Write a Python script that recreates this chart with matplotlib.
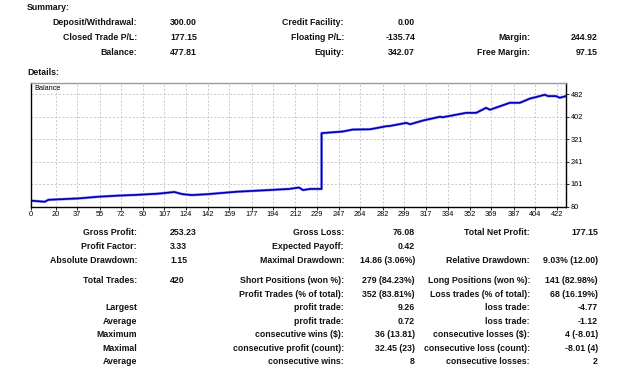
import matplotlib.pyplot as plt

plt.rcParams['font.family'] = ['Liberation Sans', 'DejaVu Sans']

# balance curve (trade number, balance)
trade_no = [0, 11, 14, 38, 54, 70, 86, 102, 115, 119, 122, 129, 141, 165, 191,
            207, 215, 218, 224, 233, 233, 250, 258, 272, 285, 288, 301, 304,
            314, 328, 330, 349, 357, 365, 368, 384, 392, 400, 408, 412, 414.5,
            421, 424, 429]
balance = [101, 97, 104, 109, 115, 119, 122, 126, 132, 127, 124, 121, 124, 133,
           139, 143, 148, 139, 143, 143, 343, 349, 356, 357, 368, 369, 380, 375,
           388, 402, 400, 416, 416, 434, 427, 452, 452, 467, 476, 481, 476, 476,
           470, 476]

x_ticks = [0, 20, 37, 55, 72, 90, 107, 124, 142, 159, 177, 194, 212, 229, 247,
           264, 282, 299, 317, 334, 352, 369, 387, 404, 422]
y_ticks = [80, 161, 241, 321, 402, 482]

# summary block: (label, value) per column
summary_col1 = [("Deposit/Withdrawal:", "300.00"), ("Closed Trade P/L:", "177.15"),
                ("Balance:", "477.81")]
summary_col2 = [("Credit Facility:", "0.00"), ("Floating P/L:", "-135.74"),
                ("Equity:", "342.07")]
summary_col3 = [("", ""), ("Margin:", "244.92"), ("Free Margin:", "97.15")]

# details block
details_col1 = [("Gross Profit:", "253.23"), ("Profit Factor:", "3.33"),
                ("Absolute Drawdown:", "1.15"), ("Total Trades:", "420"),
                ("", ""), ("Largest", ""), ("Average", ""), ("Maximum", ""),
                ("Maximal", ""), ("Average", "")]
details_col2 = [("Gross Loss:", "76.08"), ("Expected Payoff:", "0.42"),
                ("Maximal Drawdown:", "14.86 (3.06%)"),
                ("Short Positions (won %):", "279 (84.23%)"),
                ("Profit Trades (% of total):", "352 (83.81%)"),
                ("profit trade:", "9.26"), ("profit trade:", "0.72"),
                ("consecutive wins ($):", "36 (13.81)"),
                ("consecutive profit (count):", "32.45 (23)"),
                ("consecutive wins:", "8")]
details_col3 = [("Total Net Profit:", "177.15"), ("", ""),
                ("Relative Drawdown:", "9.03% (12.00)"),
                ("Long Positions (won %):", "141 (82.98%)"),
                ("Loss trades (% of total):", "68 (16.19%)"),
                ("loss trade:", "-4.77"), ("loss trade:", "-1.12"),
                ("consecutive losses ($):", "4 (-8.01)"),
                ("consecutive loss (count):", "-8.01 (4)"),
                ("consecutive losses:", "2")]

W, H = 625, 369
fig = plt.figure(figsize=(W / 100, H / 100), dpi=100)


def put(x, y, s, ha="left", bold=True, size=6.3):
    # y is the row centre in pixels; place text on a common baseline
    fig.text(x / W, 1 - (y + 3) / H, s, ha=ha, va="baseline", fontsize=size,
             fontweight="bold" if bold else "normal", color="#111111")


put(27, 7, "Summary:")
put(27, 72, "Details:")

sum_rows = [22, 37, 52]
for i, y in enumerate(sum_rows):
    put(137, y, summary_col1[i][0], ha="right")
    put(170, y, summary_col1[i][1])
    put(344, y, summary_col2[i][0], ha="right")
    put(415, y, summary_col2[i][1], ha="right")
    put(530, y, summary_col3[i][0], ha="right")
    put(598, y, summary_col3[i][1], ha="right")

det_rows = [232, 246, 260, 280, 294, 307, 321, 334, 348, 361]
for i, y in enumerate(det_rows):
    put(137, y, details_col1[i][0], ha="right")
    put(170, y, details_col1[i][1])
    put(344, y, details_col2[i][0], ha="right")
    put(415, y, details_col2[i][1], ha="right")
    put(530, y, details_col3[i][0], ha="right")
    put(598, y, details_col3[i][1], ha="right")

# chart
ax = fig.add_axes([31 / W, 1 - 206.5 / H, (566 - 31) / W, (206.5 - 83) / H])
ax.plot(trade_no, balance, color="#9a9aff", lw=2.0)
ax.plot(trade_no, balance, color="#0000b0", lw=1.2)
ax.set_xlim(0, 429)
ax.set_ylim(80, 523)
ax.set_xticks(x_ticks)
ax.set_yticks(y_ticks)
ax.yaxis.tick_right()
ax.tick_params(labelsize=5.3, length=2, width=0.6, pad=1.5)
ax.grid(True, color="#c8c8c8", linestyle=(0, (2, 2)), linewidth=0.7)
for side in ["left", "bottom", "right"]:
    ax.spines[side].set_color("black")
    ax.spines[side].set_linewidth(1.0)
ax.spines["top"].set_color("#999999")
ax.spines["top"].set_linewidth(1.0)
ax.text(0.006, 0.985, "Balance", transform=ax.transAxes, fontsize=5.3,
        va="top", ha="left")

fig.savefig("out.png", dpi=100)
